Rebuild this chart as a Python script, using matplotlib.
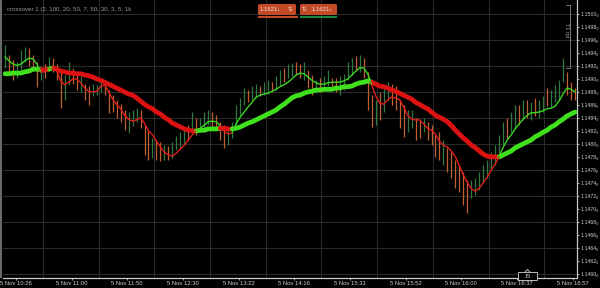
import numpy as np
import matplotlib
matplotlib.use('Agg')
import matplotlib.pyplot as plt
from matplotlib.patches import Rectangle, FancyBboxPatch, Polygon
from matplotlib.lines import Line2D

plt.rcParams['font.family'] = ['Liberation Sans', 'DejaVu Sans']

# ---------------- data ----------------
slow_ma = [
    1.14908, 1.14908, 1.14909, 1.14909, 1.14909, 1.14911, 1.14912, 1.14915, 1.14915, 1.14914,
    1.14914, 1.14915, 1.14917, 1.14915, 1.14912, 1.14911, 1.14909, 1.14909, 1.14908, 1.14908,
    1.14906, 1.14905, 1.14903, 1.14900, 1.14898, 1.14895, 1.14892, 1.14889, 1.14886, 1.14883,
    1.14880, 1.14877, 1.14875, 1.14871, 1.14866, 1.14861, 1.14857, 1.14854, 1.14849, 1.14846,
    1.14841, 1.14837, 1.14832, 1.14829, 1.14826, 1.14823, 1.14821, 1.14820, 1.14820, 1.14821,
    1.14821, 1.14823, 1.14823, 1.14823, 1.14824, 1.14824, 1.14823, 1.14823, 1.14824, 1.14826,
    1.14829, 1.14832, 1.14834, 1.14837, 1.14840, 1.14843, 1.14846, 1.14849, 1.14852, 1.14857,
    1.14861, 1.14866, 1.14871, 1.14874, 1.14875, 1.14878, 1.14880, 1.14881, 1.14883, 1.14883,
    1.14884, 1.14884, 1.14884, 1.14886, 1.14886, 1.14888, 1.14888, 1.14889, 1.14892, 1.14894,
    1.14895, 1.14897, 1.14895, 1.14892, 1.14889, 1.14888, 1.14886, 1.14883, 1.14881, 1.14878,
    1.14875, 1.14872, 1.14869, 1.14864, 1.14861, 1.14857, 1.14854, 1.14849, 1.14844, 1.14841,
    1.14838, 1.14834, 1.14828, 1.14821, 1.14815, 1.14809, 1.14804, 1.14798, 1.14794, 1.14789,
    1.14784, 1.14781, 1.14780, 1.14780, 1.14780, 1.14783, 1.14786, 1.14789, 1.14794, 1.14797,
    1.14800, 1.14803, 1.14806, 1.14811, 1.14814, 1.14818, 1.14821, 1.14826, 1.14829, 1.14834,
    1.14838, 1.14843, 1.14846, 1.14849,
]

fast_ma = [
    1.14934, 1.14928, 1.14923, 1.14921, 1.14923, 1.14928, 1.14932, 1.14931, 1.14923, 1.14911,
    1.14911, 1.14917, 1.14918, 1.14912, 1.14897, 1.14891, 1.14895, 1.14900, 1.14900, 1.14894,
    1.14886, 1.14881, 1.14880, 1.14881, 1.14888, 1.14891, 1.14880, 1.14869, 1.14861, 1.14854,
    1.14844, 1.14838, 1.14835, 1.14837, 1.14840, 1.14832, 1.14820, 1.14814, 1.14804, 1.14795,
    1.14787, 1.14783, 1.14781, 1.14786, 1.14792, 1.14798, 1.14806, 1.14814, 1.14821, 1.14824,
    1.14829, 1.14834, 1.14835, 1.14834, 1.14828, 1.14820, 1.14815, 1.14817, 1.14831, 1.14841,
    1.14849, 1.14857, 1.14864, 1.14872, 1.14875, 1.14877, 1.14878, 1.14881, 1.14884, 1.14888,
    1.14891, 1.14895, 1.14900, 1.14906, 1.14909, 1.14908, 1.14903, 1.14898, 1.14894, 1.14892,
    1.14892, 1.14894, 1.14895, 1.14895, 1.14895, 1.14897, 1.14900, 1.14906, 1.14912, 1.14917,
    1.14917, 1.14908, 1.14891, 1.14874, 1.14863, 1.14861, 1.14868, 1.14872, 1.14871, 1.14868,
    1.14857, 1.14844, 1.14838, 1.14837, 1.14837, 1.14831, 1.14824, 1.14821, 1.14815, 1.14804,
    1.14798, 1.14795, 1.14789, 1.14780, 1.14766, 1.14752, 1.14740, 1.14731, 1.14727, 1.14732,
    1.14740, 1.14749, 1.14760, 1.14769, 1.14781, 1.14795, 1.14806, 1.14814, 1.14823, 1.14831,
    1.14838, 1.14844, 1.14848, 1.14848, 1.14849, 1.14851, 1.14854, 1.14855, 1.14858, 1.14866,
    1.14877, 1.14886, 1.14884, 1.14880,
]

bar_high = [
    1.14952, 1.14937, 1.14929, 1.14926, 1.14945, 1.14949, 1.14948, 1.14937, 1.14926, 1.14920,
    1.14923, 1.14934, 1.14932, 1.14923, 1.14911, 1.14906, 1.14926, 1.14917, 1.14908, 1.14905,
    1.14892, 1.14889, 1.14892, 1.14891, 1.14898, 1.14895, 1.14883, 1.14875, 1.14868, 1.14861,
    1.14852, 1.14849, 1.14852, 1.14855, 1.14852, 1.14829, 1.14821, 1.14809, 1.14806, 1.14803,
    1.14798, 1.14797, 1.14803, 1.14812, 1.14818, 1.14824, 1.14829, 1.14849, 1.14840, 1.14840,
    1.14849, 1.14852, 1.14849, 1.14844, 1.14834, 1.14829, 1.14824, 1.14834, 1.14860, 1.14871,
    1.14886, 1.14883, 1.14889, 1.14892, 1.14889, 1.14895, 1.14898, 1.14895, 1.14905, 1.14914,
    1.14917, 1.14923, 1.14925, 1.14926, 1.14923, 1.14926, 1.14914, 1.14906, 1.14898, 1.14901,
    1.14905, 1.14914, 1.14901, 1.14901, 1.14905, 1.14908, 1.14926, 1.14932, 1.14935, 1.14937,
    1.14932, 1.14911, 1.14875, 1.14868, 1.14880, 1.14886, 1.14895, 1.14892, 1.14889, 1.14868,
    1.14860, 1.14852, 1.14852, 1.14840, 1.14837, 1.14840, 1.14834, 1.14829, 1.14814, 1.14818,
    1.14806, 1.14794, 1.14787, 1.14775, 1.14767, 1.14757, 1.14744, 1.14744, 1.14747, 1.14757,
    1.14767, 1.14775, 1.14787, 1.14798, 1.14814, 1.14834, 1.14840, 1.14849, 1.14860, 1.14860,
    1.14868, 1.14868, 1.14864, 1.14871, 1.14868, 1.14874, 1.14886, 1.14883, 1.14891, 1.14898,
    1.14932, 1.14911, 1.14895, 1.14886,
]

bar_low = [
    1.14917, 1.14906, 1.14898, 1.14901, 1.14914, 1.14926, 1.14920, 1.14914, 1.14888, 1.14898,
    1.14901, 1.14914, 1.14911, 1.14898, 1.14855, 1.14868, 1.14891, 1.14892, 1.14883, 1.14880,
    1.14868, 1.14860, 1.14874, 1.14875, 1.14880, 1.14875, 1.14848, 1.14849, 1.14840, 1.14834,
    1.14821, 1.14817, 1.14828, 1.14834, 1.14824, 1.14783, 1.14775, 1.14778, 1.14775, 1.14774,
    1.14775, 1.14775, 1.14778, 1.14791, 1.14794, 1.14798, 1.14806, 1.14818, 1.14814, 1.14818,
    1.14824, 1.14829, 1.14824, 1.14821, 1.14806, 1.14794, 1.14798, 1.14809, 1.14829, 1.14844,
    1.14860, 1.14864, 1.14868, 1.14871, 1.14874, 1.14875, 1.14877, 1.14880, 1.14883, 1.14889,
    1.14895, 1.14901, 1.14905, 1.14906, 1.14901, 1.14898, 1.14886, 1.14875, 1.14878, 1.14880,
    1.14883, 1.14889, 1.14883, 1.14880, 1.14875, 1.14883, 1.14898, 1.14906, 1.14914, 1.14911,
    1.14901, 1.14852, 1.14826, 1.14829, 1.14837, 1.14849, 1.14868, 1.14860, 1.14852, 1.14824,
    1.14811, 1.14818, 1.14824, 1.14806, 1.14809, 1.14818, 1.14806, 1.14798, 1.14780, 1.14775,
    1.14767, 1.14757, 1.14747, 1.14732, 1.14726, 1.14706, 1.14694, 1.14717, 1.14721, 1.14729,
    1.14741, 1.14747, 1.14760, 1.14767, 1.14778, 1.14798, 1.14809, 1.14818, 1.14824, 1.14829,
    1.14837, 1.14840, 1.14837, 1.14843, 1.14840, 1.14849, 1.14858, 1.14855, 1.14864, 1.14868,
    1.14895, 1.14875, 1.14868, 1.14868,
]

bar_dir = ("uddu uudd dudu dddu uddu "
           "dduu uddd dddu uudd dudd "
           "uduu uudu duuu dddd uuuu "
           "uduu duud uudu uddu ddud "
           "uudd uuuu dudd dudu uddd "
           "duud dudd ddud dddd duuu "
           "uuuu uudu udud uduu duuu "
           "uddd").replace(' ', '')

x_tick_labels = ["5 Nov 10:26", "5 Nov 11:00", "5 Nov 11:50", "5 Nov 12:30",
                 "5 Nov 13:22", "5 Nov 14:16", "5 Nov 15:31", "5 Nov 15:52",
                 "5 Nov 16:00", "5 Nov 16:37", "5 Nov 16:57"]
y_tick_values = [1.1460, 1.1462, 1.1464, 1.1466, 1.1468, 1.1470, 1.1472, 1.1474,
                 1.1476, 1.1478, 1.1480, 1.1482, 1.1484, 1.1486, 1.1488, 1.1490,
                 1.1492, 1.1494, 1.1496, 1.1498, 1.1500]
legend_text = "crossover 1 (2, 100, 20, 50, 7, 50, 30, 3, 5, 1k"
price_text = "1.1621\u203a"

# ---------------- layout ----------------
W, H = 600, 288
def fx(px):
    return px / W
def fy(py):
    return 1 - py / H

fig = plt.figure(figsize=(6, 2.88), dpi=100, facecolor='black')
ax = fig.add_axes([3 / W, 10 / H, 574 / W, 278 / H])
ax.set_facecolor('black')

n = len(slow_ma)
idx = np.arange(n)
ax.set_xlim(-0.5, n - 0.5)
ax.set_ylim(1.145934, 1.150216)

GRID = '#2a2a2a'
for v in y_tick_values[::2]:
    ax.axhline(v, color=GRID, lw=0.8, zorder=0)
x_tick_pos = [2.7, 16.7, 30.6, 44.6, 58.6, 72.5, 86.5, 100.5, 114.4, 128.4, 142.4]
x_grid_pos = [9.5, 23.5, 37.5, 51.4, 65.4, 79.4, 93.3, 107.3, 121.3, 135.2]
for v in x_grid_pos:
    ax.axvline(v, color=GRID, lw=0.8, zorder=0)

# price bars
UP, DOWN = '#2f7a3e', '#c0602e'
ax.vlines(idx, bar_low, bar_high, colors=[UP if c == 'u' else DOWN for c in bar_dir],
          lw=0.9, zorder=2)

# moving averages coloured by crossover state
fast = np.array(fast_ma)
slow = np.array(slow_ma)
seg_green = (fast[:-1] + fast[1:]) > (slow[:-1] + slow[1:])
runs = []
a = 0
for i in range(1, len(seg_green) + 1):
    if i == len(seg_green) or seg_green[i] != seg_green[a]:
        runs.append((a, i, bool(seg_green[a])))
        a = i
for a, b, g in runs:
    xs = idx[a:b + 1]
    ax.plot(xs, slow[a:b + 1], color='#3fe01c' if g else '#dc1212', lw=3.4,
            solid_capstyle='round', solid_joinstyle='round', zorder=3)
for a, b, g in runs:
    xs = idx[a:b + 1]
    ax.plot(xs, fast[a:b + 1], color='#3ad424' if g else '#e41c1c', lw=1.0,
            solid_capstyle='round', solid_joinstyle='round', zorder=4)

# axes styling
for s in ['top', 'left']:
    ax.spines[s].set_visible(False)
ax.spines['right'].set_color('#c8c8c8')
ax.spines['bottom'].set_color('#c8c8c8')
ax.spines['right'].set_linewidth(0.9)
ax.spines['bottom'].set_linewidth(0.9)

ax.yaxis.tick_right()
ax.set_yticks(y_tick_values)
ax.set_yticklabels([f"{v:.4f}\u2080" for v in y_tick_values])
ax.tick_params(axis='y', colors='#c8c8c8', labelcolor='#d0d0d0', labelsize=3.8,
               length=1.5, width=0.6, pad=1.0)
ax.set_xticks(x_tick_pos)
ax.set_xticklabels(x_tick_labels)
ax.tick_params(axis='x', colors='#c8c8c8', labelcolor='#d0d0d0', labelsize=4.2,
               length=1.5, width=0.6, pad=1.0)

# left border strip
fig.add_artist(Rectangle((0, fy(278)), fx(2), 278 / H, transform=fig.transFigure,
                         fc='#6a6a6a', ec='none'))

# legend text
fig.text(fx(7), fy(9), legend_text, color='#9c9c9c', fontsize=4.4, va='center', ha='left')

# price boxes at the top
fig.add_artist(FancyBboxPatch((fx(258), fy(15)), 38 / W, 11 / H, transform=fig.transFigure,
                              boxstyle='round,pad=0,rounding_size=0.004', fc='#c24a26', ec='none'))
fig.add_artist(FancyBboxPatch((fx(300), fy(15)), 37 / W, 11 / H, transform=fig.transFigure,
                              boxstyle='round,pad=0,rounding_size=0.004', fc='#c24a26', ec='none'))
fig.text(fx(260), fy(9.5), price_text, color='#f4dcd2', fontsize=4.3, va='center', ha='left')
fig.text(fx(290), fy(9.5), "\u21c5", color='#f4dcd2', fontsize=4.0, va='center', ha='center',
         family=['DejaVu Sans'])
fig.text(fx(304.5), fy(9.5), "\u21c5", color='#f4dcd2', fontsize=4.0, va='center', ha='center',
         family=['DejaVu Sans'])
fig.text(fx(312), fy(9.5), price_text, color='#f4dcd2', fontsize=4.3, va='center', ha='left')
fig.add_artist(Rectangle((fx(258), fy(18)), 40 / W, 2 / H, transform=fig.transFigure,
                         fc='#c24a26', ec='none'))
fig.add_artist(Rectangle((fx(300), fy(18)), 37 / W, 2 / H, transform=fig.transFigure,
                         fc='#15883a', ec='none'))

# top-right bracket with rotated label
BR = '#8c8c8c'
fig.add_artist(Line2D([fx(566), fx(570), fx(570), fx(566)], [fy(5), fy(5), fy(68), fy(68)],
                      transform=fig.transFigure, color=BR, lw=0.6))
fig.text(fx(566), fy(30), "T1 rpt", color='#a0a0a0', fontsize=4.0, rotation=-90,
         va='center', ha='center')

# bottom "15" marker box
fig.add_artist(Rectangle((fx(518), fy(280)), 19 / W, 8 / H, transform=fig.transFigure,
                         fc='black', ec='#d8d8d8', lw=0.6, zorder=5))
fig.add_artist(Polygon([[fx(525), fy(272)], [fx(527.5), fy(269.5)], [fx(530), fy(272)]],
                       closed=False, transform=fig.transFigure, fill=False,
                       ec='#d8d8d8', lw=0.6, zorder=5))
fig.text(fx(527.5), fy(276), "15", color='#e0e0e0', fontsize=4.0, va='center', ha='center',
         zorder=6)

fig.savefig('out.png', dpi=100, facecolor='black')
